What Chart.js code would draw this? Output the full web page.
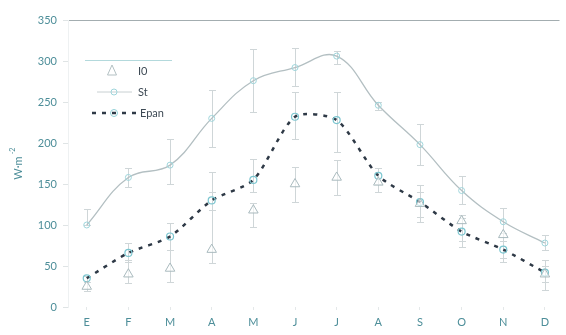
<!DOCTYPE html>
<html><head><meta charset="utf-8">
<script src="https://cdn.jsdelivr.net/npm/chart.js@4"></script>
<style>html,body{margin:0;padding:0;background:#fff}#wrap{width:566px;height:335px;position:relative}</style>
</head><body><div id="wrap"><canvas id="c" width="566" height="335"></canvas></div>
<script>
const months = ['E','F','M','A','M','J','J','A','S','O','N','D'];
const yTicks = [0,50,100,150,200,250,300,350];
const seriesNames = ['I0','St','Epan'];
const i0   = [25,40,47,70,118,150,158,152,126,105,88,40];
const i0Hi = [30,57,103,165,127,171,179,170,140,112,121,50];
const i0Lo = [20,29,30,54,98,128,136,140,110,73,55,30];
const st   = [100,158,173,230,276,292,306,246,198,142,104,78];
const stHi = [120,170,205,265,315,316,312,250,223,160,121,88];
const stLo = [100,146,150,195,238,270,296,240,173,125,90,70];
const epan   = [35,66,86,130,155,232,228,160,128,92,70,42];
const epanHi = [38,78,103,140,180,262,262,170,149,108,80,57];
const epanLo = [30,55,70,118,140,205,189,150,104,80,60,21];

const teal = '#4d8e99';
const toPts = a => a.map((v,i)=>({x:i,y:v}));
const errs = [[i0Hi,i0Lo],[stHi,stLo],[epanHi,epanLo]];

const errPlugin = {
  id:'err',
  beforeDatasetsDraw(chart){
    const {ctx, scales:{x,y}} = chart;
    ctx.save();
    ctx.strokeStyle = '#cfd6d8'; ctx.lineWidth = 1;
    errs.forEach(([hi,lo])=>{
      hi.forEach((h,i)=>{
        const px = Math.round(x.getPixelForValue(i))+0.5;
        const a = Math.round(y.getPixelForValue(h))+0.5, b = Math.round(y.getPixelForValue(lo[i]))+0.5;
        ctx.beginPath(); ctx.moveTo(px,a); ctx.lineTo(px,b);
        ctx.moveTo(px-3.5,a); ctx.lineTo(px+3.5,a);
        ctx.moveTo(px-3.5,b); ctx.lineTo(px+3.5,b); ctx.stroke();
      });
    });
    ctx.restore();
  },
  afterDraw(chart){
    const ctx = chart.ctx;
    ctx.save();
    ctx.strokeStyle = '#b3d9dc'; ctx.lineWidth = 1;
    ctx.beginPath(); ctx.moveTo(85,60.5); ctx.lineTo(172,60.5); ctx.stroke();
    ctx.font = '11px Lato, "Open Sans", sans-serif';
    ctx.fillStyle = '#3e4a55'; ctx.textBaseline='middle';
    ctx.strokeStyle = '#b3c0c3'; ctx.lineWidth=1;
    ctx.beginPath(); ctx.moveTo(112,65); ctx.lineTo(107.5,75); ctx.lineTo(116.5,75); ctx.closePath(); ctx.stroke();
    ctx.fillText(seriesNames[0],138,71);
    ctx.strokeStyle = '#c8d0d2'; ctx.beginPath(); ctx.moveTo(97,92); ctx.lineTo(132,92); ctx.stroke();
    ctx.strokeStyle = '#9fd5db'; ctx.beginPath(); ctx.arc(114,92,3,0,Math.PI*2); ctx.stroke();
    ctx.fillText(seriesNames[1],138,92);
    ctx.strokeStyle = '#2e3946'; ctx.lineWidth=2.5; ctx.setLineDash([4,6]);
    ctx.beginPath(); ctx.moveTo(92,113); ctx.lineTo(136,113); ctx.stroke(); ctx.setLineDash([]);
    ctx.strokeStyle = '#8fcfd6'; ctx.lineWidth=1; ctx.beginPath(); ctx.arc(114,113,3.5,0,Math.PI*2); ctx.stroke();
    ctx.fillText(seriesNames[2],140,113);
    ctx.translate(18,165); ctx.rotate(-Math.PI/2);
    ctx.fillStyle = teal; ctx.textAlign='center';
    ctx.font = '11px Lato, "Open Sans", sans-serif';
    ctx.fillText('W·m',-3,0);
    ctx.font = '7px Lato, "Open Sans", sans-serif';
    ctx.fillText('-2',14,-5);
    ctx.restore();
  }
};

new Chart(document.getElementById('c'),{
  type:'line',
  data:{datasets:[
    {label:seriesNames[0],data:toPts(i0),showLine:false,pointStyle:'triangle',pointRadius:5.5,
     pointBorderColor:'#a9babe',pointBackgroundColor:'rgba(255,255,255,0.6)',pointBorderWidth:1},
    {label:seriesNames[1],data:toPts(st),borderColor:'#b3bfc2',borderWidth:1.3,tension:0.4,
     pointRadius:3,pointBorderColor:'#9fd5db',pointBackgroundColor:'rgba(255,255,255,0)',pointBorderWidth:1},
    {label:seriesNames[2],data:toPts(epan),borderColor:'#2e3946',borderWidth:2.5,borderDash:[4,6],tension:0.25,
     pointRadius:3.5,pointBorderColor:'#7cc6d0',pointBackgroundColor:'rgba(255,255,255,0)',pointBorderWidth:1.2}
  ]},
  options:{
    responsive:false,animation:false,
    layout:{padding:{top:20,right:0,left:0,bottom:0}},
    plugins:{legend:{display:false},tooltip:{enabled:false}},
    scales:{
      x:{type:'linear',min:-0.45,max:11.35,
         afterFit(s){s.height=28;},
         afterBuildTicks(s){s.ticks = months.map((m,i)=>({value:i}));},
         ticks:{callback:(v)=>months[v]??'',color:teal,font:{size:11,family:'Lato, "Open Sans", sans-serif'},padding:6,autoSkip:false,maxRotation:0},
         grid:{drawOnChartArea:false,tickLength:3,tickColor:'#e4e8e9'},
         border:{display:false}},
      y:{min:0,max:350,
         afterFit(s){s.width=68;},
         afterBuildTicks(s){s.ticks = yTicks.map(v=>({value:v}));},
         ticks:{color:teal,font:{size:11,family:'Lato, "Open Sans", sans-serif'},padding:6},
         grid:{color:c=>c.tick&&c.tick.value===350?'#a3adb0':'transparent',tickLength:5,tickColor:'#dfe4e5'},
         border:{display:true,color:'#eef1f2'}}
    }
  },
  plugins:[errPlugin]
});
</script></body></html>
